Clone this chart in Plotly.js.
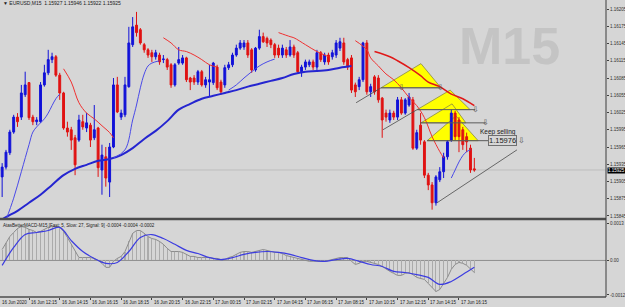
<!DOCTYPE html>
<html><head><meta charset="utf-8">
<script src="https://cdn.plot.ly/plotly-3.0.1.min.js"></script>
<style>html,body{margin:0;padding:0;background:#d6d6d6;}#chart{width:625px;height:307px;}</style>
</head><body><div id="chart"></div>
<script>
// ---- Candles (bar 1 = 16 Jun 10:30, 15-minute bars) ----
const open = [1.15913,1.15930,1.15955,1.15991,1.16017,1.16017,1.16056,1.16077,1.16017,1.16009,
1.16009,1.16073,1.16094,1.16117,1.16122,1.16090,1.16059,1.15998,1.15995,1.15981,
1.15977,1.16009,1.15998,1.16003,1.15981,1.15998,1.15925,1.15948,1.15904,1.15965,
1.16073,1.16017,1.16021,1.16070,1.16143,1.16177,1.16169,1.16143,1.16134,1.16129,
1.16122,1.16125,1.16117,1.16117,1.16108,1.16073,1.16111,1.16111,1.16120,1.16085,
1.16085,1.16078,1.16096,1.16073,1.16078,1.16077,1.16104,1.16078,1.16073,1.16103,
1.16108,1.16125,1.16137,1.16139,1.16146,1.16134,1.16099,1.16137,1.16157,1.16154,
1.16151,1.16143,1.16137,1.16125,1.16134,1.16125,1.16139,1.16129,1.16096,1.16104,
1.16108,1.16113,1.16104,1.16129,1.16113,1.16125,1.16122,1.16125,1.16137,1.16146,
1.16117,1.16120,1.16073,1.16070,1.16082,1.16146,1.16061,1.16087,1.16085,1.16050,
1.16024,1.16012,1.16024,1.16017,1.16047,1.16024,1.16038,1.16047,1.15963,1.16003,
1.15974,1.15916,1.15899,1.15868,1.15908,1.15922,1.15948,1.15977,1.16024,1.16012,
1.15995,1.15983,1.15963,1.15927];
const high = [1.15937,1.15960,1.15995,1.16021,1.16024,1.16073,1.16096,1.16078,1.16021,1.16017,
1.16078,1.16108,1.16134,1.16129,1.16125,1.16094,1.16061,1.16009,1.16000,1.15986,
1.16021,1.16021,1.16024,1.16007,1.16038,1.16000,1.15969,1.15965,1.15972,1.16085,
1.16087,1.16030,1.16087,1.16174,1.16191,1.16200,1.16172,1.16146,1.16137,1.16134,
1.16134,1.16129,1.16125,1.16120,1.16111,1.16111,1.16139,1.16125,1.16122,1.16087,
1.16090,1.16099,1.16099,1.16087,1.16108,1.16113,1.16108,1.16082,1.16108,1.16113,
1.16129,1.16143,1.16151,1.16151,1.16151,1.16137,1.16139,1.16169,1.16164,1.16157,
1.16154,1.16146,1.16143,1.16143,1.16139,1.16151,1.16143,1.16132,1.16108,1.16117,
1.16117,1.16117,1.16134,1.16132,1.16129,1.16129,1.16134,1.16151,1.16155,1.16155,
1.16120,1.16125,1.16077,1.16087,1.16148,1.16151,1.16075,1.16090,1.16090,1.16052,
1.16030,1.16030,1.16028,1.16052,1.16052,1.16050,1.16059,1.16052,1.15995,1.16024,
1.15977,1.15920,1.15904,1.15916,1.15930,1.15955,1.15977,1.16030,1.16028,1.16017,
1.16000,1.15990,1.15969,1.15946];
const low = [1.15878,1.15926,1.15951,1.15988,1.16000,1.16012,1.16052,1.16012,1.16003,1.16003,
1.16007,1.16070,1.16090,1.16111,1.16087,1.16047,1.15995,1.15983,1.15960,1.15916,
1.15974,1.15995,1.15991,1.15965,1.15977,1.15913,1.15882,1.15896,1.15878,1.15963,
1.16024,1.16012,1.16017,1.16068,1.16139,1.16157,1.16143,1.16129,1.16120,1.16113,
1.16117,1.16108,1.16111,1.16099,1.16068,1.16070,1.16108,1.16108,1.16078,1.16064,
1.16073,1.16073,1.16070,1.16068,1.16052,1.16073,1.16064,1.16056,1.16068,1.16099,
1.16104,1.16122,1.16134,1.16134,1.16120,1.16094,1.16096,1.16134,1.16146,1.16139,
1.16137,1.16120,1.16120,1.16120,1.16120,1.16122,1.16120,1.16094,1.16087,1.16099,
1.16104,1.16099,1.16099,1.16113,1.16108,1.16108,1.16117,1.16120,1.16132,1.16108,
1.16099,1.16059,1.16052,1.16064,1.16078,1.16056,1.16052,1.16056,1.16042,1.15981,
1.16009,1.16007,1.16012,1.16012,1.16021,1.16021,1.16035,1.15960,1.15960,1.15969,
1.15911,1.15890,1.15856,1.15863,1.15904,1.15911,1.15943,1.15974,1.15977,1.15956,
1.15960,1.15956,1.15920,1.15922];
const close = [1.15930,1.15956,1.15991,1.16017,1.16009,1.16059,1.16073,1.16016,1.16009,1.16012,
1.16073,1.16094,1.16117,1.16122,1.16090,1.16059,1.15998,1.15991,1.15977,1.15934,
1.16012,1.16000,1.16007,1.15977,1.15995,1.15929,1.15951,1.15911,1.15965,1.16073,
1.16026,1.16024,1.16073,1.16146,1.16174,1.16164,1.16146,1.16134,1.16125,1.16122,
1.16129,1.16113,1.16118,1.16104,1.16073,1.16108,1.16117,1.16120,1.16082,1.16078,
1.16078,1.16096,1.16073,1.16082,1.16082,1.16111,1.16068,1.16061,1.16103,1.16108,
1.16125,1.16137,1.16146,1.16146,1.16125,1.16099,1.16137,1.16157,1.16148,1.16146,
1.16143,1.16125,1.16125,1.16137,1.16125,1.16139,1.16125,1.16096,1.16104,1.16113,
1.16113,1.16104,1.16129,1.16117,1.16125,1.16113,1.16129,1.16146,1.16148,1.16113,
1.16104,1.16064,1.16061,1.16082,1.16146,1.16061,1.16070,1.16061,1.16047,1.16012,
1.16017,1.16024,1.16017,1.16047,1.16024,1.16047,1.16052,1.15963,1.15990,1.15977,
1.15916,1.15899,1.15868,1.15913,1.15922,1.15948,1.15974,1.16024,1.15983,1.15983,
1.15969,1.15974,1.15925,1.15925];

// ---- Moving averages (bar index, price) ----
const slowBlueX = [0,2,5,8,11,14,17,20,23,26,29,32,35,38,41,44,47,50,53,56,59,62,65,68,71,74,77,80,83,86,89,92];
const slowBlueY = [1.15835,1.15843,1.15854,1.15868,1.15882,1.15899,1.15916,1.15927,1.15934,1.15941,1.15944,1.15951,1.15963,1.15979,1.15993,1.16010,1.16030,1.16040,1.16049,1.16054,1.16059,1.16064,1.16070,1.16075,1.16080,1.16085,1.16092,1.16096,1.16097,1.16099,1.16103,1.16106];
const slowRedX = [98,102,104,107,110,112,115,118,121,124];
const slowRedY = [1.16131,1.16122,1.16115,1.16103,1.16089,1.16078,1.16070,1.16057,1.16049,1.16037];
const fastBlueSegX = [[2,4,6,8,9,10,11,12,13,14,15,16],[30,33,35,36,37,38,39,40,42],[60,62,64,66,68,70,72],[118,119,120,121,122,123]];
const fastBlueSegY = [[1.15838,1.15876,1.15922,1.15969,1.15991,1.16000,1.16007,1.16014,1.16024,1.16037,1.16049,1.16057],
 [1.15946,1.15960,1.16012,1.16038,1.16068,1.16092,1.16106,1.16111,1.16115],
 [1.16064,1.16073,1.16085,1.16096,1.16106,1.16113,1.16118],
 [1.15911,1.15925,1.15939,1.15950,1.15957,1.15960]];
const fastRedSegX = [[17,19,21,23,25,27,29,30],[43,45,47,49,51,53,55,57],[73,76,77,80,83,86],[93,96,97,99,101,103,105,107,109,111,113,115,116]];
const fastRedSegY = [[1.16101,1.16078,1.16042,1.16024,1.16014,1.16002,1.15990,1.15981],
 [1.16155,1.16146,1.16134,1.16131,1.16125,1.16117,1.16108,1.16104],
 [1.16164,1.16157,1.16155,1.16143,1.16131,1.16122],
 [1.16150,1.16134,1.16120,1.16106,1.16092,1.16082,1.16068,1.16051,1.16037,1.16016,1.15983,1.15957,1.15946]];

// ---- MACD panel ----
const macdMain = [0.00038,0.00062,0.00083,0.00097,0.00111,0.00118,0.00115,0.00108,0.00104,0.00097,
0.00101,0.00108,0.00115,0.00118,0.00118,0.00115,0.00101,0.00080,0.00056,0.00031,
0.00010,0.00010,0.00010,0.00010,0.00007,0.00000,-0.00010,-0.00024,-0.00024,-0.00003,
0.00007,0.00014,0.00031,0.00066,0.00094,0.00104,0.00104,0.00094,0.00083,0.00076,
0.00073,0.00066,0.00056,0.00042,0.00031,0.00031,0.00031,0.00028,0.00021,0.00014,
0.00014,0.00010,0.00010,0.00010,0.00010,0.00007,0.00007,0.00003,0.00003,0.00010,
0.00014,0.00021,0.00028,0.00031,0.00031,0.00028,0.00031,0.00035,0.00038,0.00035,
0.00031,0.00028,0.00028,0.00024,0.00017,0.00014,0.00010,0.00007,0.00003,0.00000,
-0.00003,-0.00003,-0.00003,-0.00003,-0.00003,0.00000,0.00003,0.00007,0.00010,0.00010,
0.00010,-0.00003,-0.00014,-0.00010,-0.00003,-0.00003,-0.00007,-0.00010,-0.00014,-0.00021,
-0.00031,-0.00038,-0.00045,-0.00052,-0.00052,-0.00045,-0.00042,-0.00049,-0.00059,-0.00062,
-0.00066,-0.00080,-0.00094,-0.00108,-0.00101,-0.00080,-0.00059,-0.00031,-0.00014,-0.00007,
-0.00010,-0.00017,-0.00028,-0.00042];
const signalX = [1,4,7,10,13,16,19,22,25,28,31,34,37,40,43,46,49,52,55,58,61,64,67,70,73,76,79,82,85,88,91,94,97,100,103,106,109,112,115,118,121,124];
const signalY = [-0.00017,0.00045,0.00090,0.00097,0.00104,0.00115,0.00069,0.00031,0.00007,-0.00010,-0.00007,0.00031,0.00080,0.00090,0.00076,0.00056,0.00035,0.00024,0.00010,0.00003,0.00010,0.00021,0.00028,0.00031,0.00028,0.00021,0.00010,0.00000,-0.00003,0.00003,0.00007,-0.00003,-0.00014,-0.00021,-0.00038,-0.00042,-0.00049,-0.00059,-0.00083,-0.00073,-0.00049,-0.00024];

// ---- Axis labels ----
const priceTicks = [1.16205,1.16175,1.16145,1.16115,1.16085,1.16055,1.16025,1.15995,1.15965,1.15935,1.15905,1.15875,1.15845];
const macdTicks = [0.0013,0,-0.0012];
const macdTickText = ['0.0013','0.00','-0.0012'];
const timeTickBars = [0,8,16,24,32,40,48,56,64,72,80,88,96,104,112,120];
const timeTickLabels = ['16 Jun 2020','16 Jun 12:15','16 Jun 14:15','16 Jun 16:15','16 Jun 18:15','16 Jun 20:15','16 Jun 22:15','17 Jun 00:15','17 Jun 02:15','17 Jun 04:15','17 Jun 06:15','17 Jun 08:15','17 Jun 10:15','17 Jun 12:15','17 Jun 14:15','17 Jun 16:15'];
const lastPrice = 1.15925;
const targetPrice = 1.15976;

// ---- Chart objects (bar index, price) ----
const triangles = [
  [[99.7,1.16068],[110.1,1.16110],[115.3,1.16068]],
  [[109.1,1.16030],[117.7,1.16064],[122.9,1.16030]],
  [[110.1,1.16007],[118.2,1.16040],[121.8,1.16007]],
  [[111.7,1.15976],[119.2,1.16019],[125.0,1.15976]]
];
const levelLines = [[99.7,115.3,1.16068],[109.1,124.2,1.16030],[109.9,127.0,1.16007],[111.7,127.6,1.15976]];
const trendLines = [[93.2,1.16042,99.7,1.16068],[100.2,1.15995,109.1,1.16030],[114.3,1.15868,135.1,1.15960]];
const arrowMarks = [[104.9,1.16068],[115.1,1.16068],[124.2,1.16030],[127.0,1.16007],[136.4,1.15976]];

const bars = open.map((_, k) => k + 1);
function joinSegs(segs){ const out=[]; segs.forEach((s,k)=>{ if(k) out.push(null); out.push(...s); }); return out; }

const traces = [
  {type:'bar', x:bars, y:macdMain, width:0.28, marker:{color:'#ababab'}, xaxis:'x2', yaxis:'y2', hoverinfo:'skip'},
  {type:'scatter', mode:'lines', x:bars, y:macdMain, line:{color:'#8c8c8c', width:1}, xaxis:'x2', yaxis:'y2'},
  {type:'scatter', mode:'lines', x:signalX, y:signalY, line:{color:'#3c3ce0', width:1.2, shape:'spline'}, xaxis:'x2', yaxis:'y2'},
  {type:'scatter', mode:'lines', x:slowBlueX, y:slowBlueY, line:{color:'#2525d0', width:2, shape:'spline'}},
  {type:'scatter', mode:'lines', x:slowRedX, y:slowRedY, line:{color:'#e01818', width:1.5, shape:'spline'}},
  {type:'scatter', mode:'lines', x:joinSegs(fastBlueSegX), y:joinSegs(fastBlueSegY), line:{color:'#4a4ae8', width:1, shape:'spline'}, connectgaps:false},
  {type:'scatter', mode:'lines', x:joinSegs(fastRedSegX), y:joinSegs(fastRedSegY), line:{color:'#f03030', width:1, shape:'spline'}, connectgaps:false},
  {type:'candlestick', x:bars, open:open, high:high, low:low, close:close,
   increasing:{line:{color:'#1212d8', width:1}, fillcolor:'#1212d8'},
   decreasing:{line:{color:'#e01212', width:1}, fillcolor:'#e01212'},
   whiskerwidth:0, hoverinfo:'skip'}
];

const xRange = [0.44, 158.3];
const shapes = [];
triangles.forEach(t => shapes.push({type:'path', xref:'x', yref:'y', layer:'below',
  path:`M ${t[0][0]},${t[0][1]} L ${t[1][0]},${t[1][1]} L ${t[2][0]},${t[2][1]} Z`,
  fillcolor:'#ffff00', line:{color:'#8a8a40', width:0.8}}));
shapes.push({type:'line', xref:'paper', x0:0, x1:1, yref:'y', y0:lastPrice, y1:lastPrice, layer:'below', line:{color:'#bdbdbd', width:1}});
shapes.push({type:'line', xref:'paper', x0:0, x1:1, yref:'y2', y0:0, y1:0, layer:'below', line:{color:'#8e8e8e', width:1}});
levelLines.forEach(l => shapes.push({type:'line', xref:'x', yref:'y', x0:l[0], x1:l[1], y0:l[2], y1:l[2], line:{color:'#5a5a5a', width:1}}));
trendLines.forEach(l => shapes.push({type:'line', xref:'x', yref:'y', x0:l[0], y0:l[1], x1:l[2], y1:l[3], line:{color:'#4a4a4a', width:0.8}}));
// panel frame
shapes.push({type:'line', xref:'paper', yref:'paper', x0:0, x1:1, y0:1-219/297, y1:1-219/297, line:{color:'#4c4c4c', width:2.5}});
shapes.push({type:'line', xref:'paper', yref:'paper', x0:0, x1:1, y0:0, y1:0, line:{color:'#4c4c4c', width:1.5}});
shapes.push({type:'line', xref:'paper', yref:'paper', x0:1, x1:1, y0:0, y1:1, line:{color:'#3c3c3c', width:1}});

const txtFont = {family:'Liberation Sans, Arial, sans-serif', color:'#202020'};
const annotations = [
  {xref:'paper', yref:'paper', x:0.84, y:1-46/297, xanchor:'center', yanchor:'middle', showarrow:false,
   text:'<b>M15</b>', font:{family:'Liberation Sans, Arial, sans-serif', size:52, color:'#c4c4c4'}},
  {xref:'paper', yref:'paper', x:0, y:1, xanchor:'left', yanchor:'top', showarrow:false, xshift:1, yshift:2,
   text:'▼ EURUSD,M15  ' + [open[123], high[123], low[123], close[123]].map(v=>v.toFixed(5)).join(' '), font:Object.assign({size:5}, txtFont)},
  {xref:'paper', yref:'paper', x:0, y:1-221/297, xanchor:'left', yanchor:'top', showarrow:false, xshift:1,
   text:'AtasBetterMACD-M15 [Fast: 5, Slow: 27, Signal: 9] -0.0004 -0.0004 -0.0002', font:Object.assign({size:4.5}, txtFont)},
  {xref:'x', yref:'y', x:125.0, y:1.15991, xanchor:'left', yanchor:'middle', showarrow:false,
   text:'Keep selling', font:Object.assign({size:6.5}, txtFont)},
  {xref:'x', yref:'y', x:127.6, y:targetPrice, xanchor:'left', yanchor:'middle', showarrow:false,
   text:targetPrice.toFixed(5), bordercolor:'#707070', borderwidth:1, borderpad:0, font:Object.assign({size:7.5}, txtFont)},
  {xref:'paper', yref:'y', x:1, y:lastPrice, xanchor:'left', yanchor:'middle', showarrow:false, xshift:1,
   text:lastPrice.toFixed(5), bgcolor:'#000000', borderpad:0, font:{family:'Liberation Sans, Arial, sans-serif', size:4.5, color:'#ffffff'}}
];
arrowMarks.forEach(a => annotations.push({xref:'x', yref:'y', x:a[0], y:a[1], xanchor:'center', yanchor:'middle', showarrow:false,
  text:'⇩', font:{family:'DejaVu Sans, sans-serif', size:8, color:'#505050'}}));
timeTickBars.forEach((b,k) => annotations.push({xref:'x2', yref:'paper', x:Math.max(b, xRange[0]), y:0, xanchor:'left', yanchor:'top', yshift:-1, showarrow:false,
  text:timeTickLabels[k], font:Object.assign({size:4.5}, txtFont)}));

const axisFont = {family:'Liberation Sans, Arial, sans-serif', size:4.5, color:'#303030'};
const layout = {
  width:625, height:307, margin:{l:0, r:19, t:0, b:10, pad:0},
  paper_bgcolor:'#d6d6d6', plot_bgcolor:'#d6d6d6', showlegend:false, hovermode:false,
  xaxis:{domain:[0,1], range:xRange, anchor:'y', showticklabels:false, showgrid:false, zeroline:false, ticks:'', rangeslider:{visible:false}},
  xaxis2:{domain:[0,1], range:xRange, anchor:'y2', matches:'x', showticklabels:false, showgrid:false, zeroline:false,
          tickmode:'array', tickvals:timeTickBars, ticks:'outside', ticklen:2, tickcolor:'#404040'},
  yaxis:{domain:[1-218/297, 1], range:[1.158415, 1.162207], side:'right', showgrid:false, zeroline:false,
         tickmode:'array', tickvals:priceTicks, ticktext:priceTicks.map(v=>v.toFixed(5)), ticks:'outside', ticklen:2, tickcolor:'#404040', tickfont:axisFont},
  yaxis2:{domain:[0, 76/297], range:[-0.00127, 0.00137], side:'right', showgrid:false, zeroline:false,
          tickmode:'array', tickvals:macdTicks, ticktext:macdTickText, ticks:'outside', ticklen:2, tickcolor:'#404040', tickfont:axisFont},
  shapes:shapes, annotations:annotations, bargap:0
};
Plotly.newPlot('chart', traces, layout, {staticPlot:true, displayModeBar:false});
</script></body></html>
